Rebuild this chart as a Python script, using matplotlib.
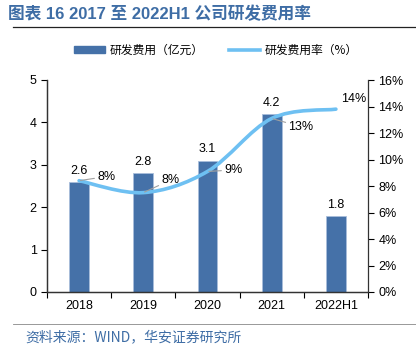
import matplotlib.pyplot as plt
import numpy as np
from matplotlib.path import Path
from matplotlib.patches import PathPatch
from matplotlib.lines import Line2D
from matplotlib.patches import Patch

plt.rcParams['font.family'] = ['Liberation Sans', 'Noto Sans CJK SC', 'DejaVu Sans']

years = ['2018', '2019', '2020', '2021', '2022H1']
rd_cost = [2.6, 2.8, 3.1, 4.2, 1.8]          # 亿元
rd_rate = [8.4, 7.5, 9.1, 13.1, 13.8]         # %
rate_labels = ['8%', '8%', '9%', '13%', '14%']
# label offsets (points) and whether a leader line is drawn
rate_offsets = [(13, 3), (13, 9), (12, 1), (12, -6), (4, 7)]
rate_leader = [True, True, True, True, False]

bar_color = '#4571A8'
line_color = '#6EC0F2'
title_color = '#3E6DA5'

fig = plt.figure(figsize=(4.16, 3.46), dpi=100)
ax = fig.add_axes([47 / 416, 1 - 292 / 346, 321 / 416, 212 / 346])
ax2 = ax.twinx()

x = np.arange(len(years))
bars = ax.bar(x, rd_cost, width=0.31, color=bar_color, edgecolor='#A9BEDB', linewidth=0.6, zorder=2)
for xi, v in zip(x, rd_cost):
    ax.text(xi, v + 0.12, f'{v:.1f}', ha='center', va='bottom', fontsize=9)

ax.set_xlim(-0.5, len(years) - 0.5)
ax.set_ylim(0, 5)
ax.set_yticks(range(6))
ax.set_xticks(np.arange(-0.5, len(years)))
ax.set_xticklabels([])
ax.set_xticks(x, minor=True)
ax.set_xticklabels(years, minor=True)
ax.tick_params(axis='x', which='minor', length=0, pad=6, labelsize=9)
ax.tick_params(axis='x', which='major', length=4, direction='out', width=0.8)
ax.tick_params(axis='y', labelsize=9, length=4, width=0.8, direction='out')

ax2.set_ylim(0, 16)
ax2.set_yticks(range(0, 17, 2))
ax2.set_yticklabels([f'{v}%' for v in range(0, 17, 2)])
ax2.tick_params(axis='y', labelsize=9, length=4, width=0.8, direction='out')

for a in (ax, ax2):
    a.spines['top'].set_visible(False)
    for s in ('left', 'right', 'bottom'):
        a.spines[s].set_color('#333333')
        a.spines[s].set_linewidth(0.9)
ax.spines['right'].set_visible(False)

# smooth rate curve (Catmull-Rom -> cubic Bezier)
pts = np.column_stack([x, rd_rate]).astype(float)
verts = [tuple(pts[0])]
codes = [Path.MOVETO]
n = len(pts)
for i in range(n - 1):
    p0 = pts[max(i - 1, 0)]
    p1 = pts[i]
    p2 = pts[i + 1]
    p3 = pts[min(i + 2, n - 1)]
    c1 = p1 + (p2 - p0) / 6
    c2 = p2 - (p3 - p1) / 6
    verts += [tuple(c1), tuple(c2), tuple(p2)]
    codes += [Path.CURVE4] * 3
curve = PathPatch(Path(verts, codes), facecolor='none', edgecolor=line_color,
                  linewidth=2.6, capstyle='round', zorder=3)
ax2.add_patch(curve)

for xi, r, lab, off, lead in zip(x, rd_rate, rate_labels, rate_offsets, rate_leader):
    props = dict(arrowstyle='-', color='#A0A0A0', lw=0.8, shrinkA=0, shrinkB=1) if lead else None
    ax2.annotate(lab, xy=(xi, r), xytext=off, textcoords='offset points',
                 ha='left', va='center', fontsize=9, arrowprops=props, zorder=4)

# title, rules, legend, source
fig.text(8 / 416, 1 - 14 / 346, '图表 16 2017 至 2022H1 公司研发费用率', ha='left', va='center',
         fontsize=12, fontweight='bold', color=title_color,
         family=['Liberation Sans', 'Noto Sans CJK SC'])
fig.add_artist(Line2D([13 / 416, 1], [1 - 27 / 346] * 2, color='#222222', lw=0.9))
fig.add_artist(Line2D([13 / 416, 1], [1 - 324 / 346] * 2, color='#888888', lw=0.6))

handles = [Patch(facecolor=bar_color, edgecolor=bar_color),
           Line2D([0], [0], color=line_color, lw=2.6)]
fig.legend(handles, ['研发费用（亿元）', '研发费用率（%）'], loc='center',
           bbox_to_anchor=(216 / 416, 1 - 50 / 346), ncol=2, frameon=False,
           handlelength=2.6, handleheight=0.5, handletextpad=0.4, columnspacing=2.2,
           prop={'family': ['Noto Sans CJK SC'], 'size': 8.5})

fig.text(25 / 416, 1 - 337 / 346, '资料来源：WIND，华安证券研究所', ha='left', va='center',
         fontsize=10, color=title_color, family=['Noto Sans CJK SC'])

fig.savefig('out.png', dpi=100)
